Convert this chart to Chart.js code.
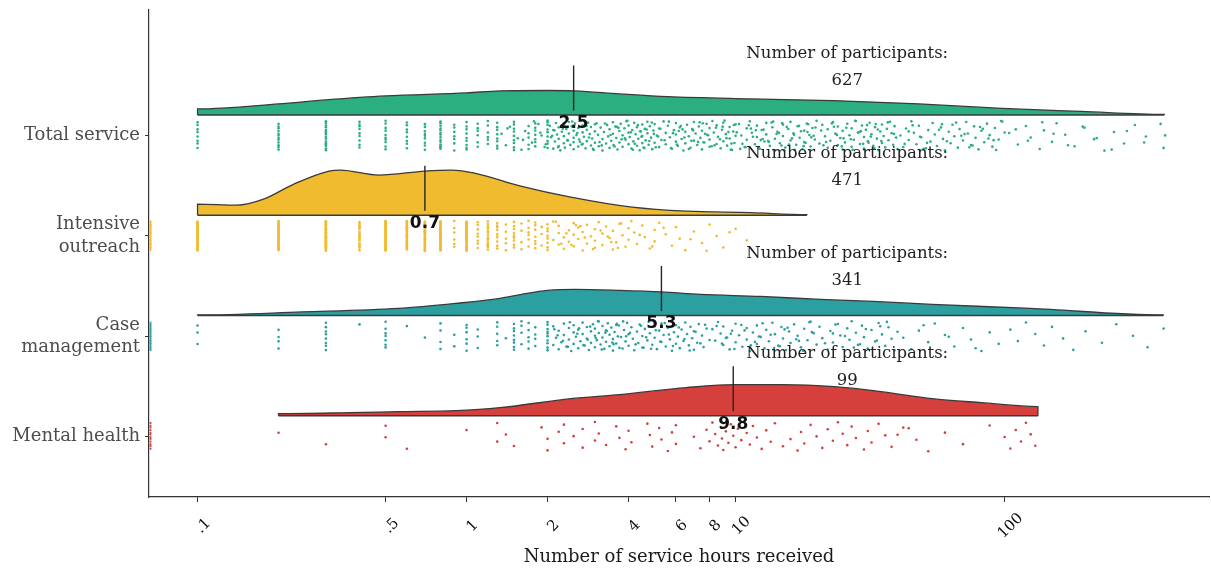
<!DOCTYPE html>
<html><head><meta charset="utf-8">
<script src="https://cdn.jsdelivr.net/npm/chart.js@4.4.0/dist/chart.umd.min.js"></script>
<style>html,body{margin:0;padding:0;background:#fff;}#wrap{width:1211px;height:569px;}</style>
</head><body><div id="wrap"><canvas id="c" width="1211" height="569"></canvas></div>
<script>
// ---------- data ----------
const categories = ['Total service', ['Intensive', 'outreach'], ['Case', 'management'], 'Mental health'];
const categoryLevels = [4, 3, 2, 1];
const seriesColors = ['#2BAE80', '#F1BB30', '#2C9FA0', '#D5403D'];
const medians = [2.5, 0.7, 5.3, 9.8];
const medianLabels = ['2.5', '0.7', '5.3', '9.8'];
const participants = [627, 471, 341, 99];
const zeroCounts = [0, 24, 20, 12];
const xTickValues = [0.1, 0.5, 1, 2, 4, 6, 8, 10, 100];
const xTickLabels = ['.1', '.5', '1', '2', '4', '6', '8', '10', '100'];

// density curves (hours, height in y-axis units)
const totalDensityX = [0.1, 0.2, 0.3, 0.5, 1, 1.33, 2, 2.53, 3.7, 5.6, 11.4, 23, 48, 98, 193, 392];
const totalDensityH = [0.06, 0.11, 0.15, 0.19, 0.22, 0.24, 0.244, 0.24, 0.21, 0.182, 0.16, 0.143, 0.11, 0.065, 0.035, 0.005];
const intensiveDensityX = [0.1, 0.14, 0.176, 0.228, 0.308, 0.339, 0.473, 0.7, 0.88, 1.07, 1.59, 2.44, 4.13, 6.56, 11.4, 18.4];
const intensiveDensityH = [0.11, 0.10, 0.16, 0.31, 0.44, 0.45, 0.40, 0.44, 0.45, 0.42, 0.29, 0.18, 0.08, 0.04, 0.025, 0.005];
const caseDensityX = [0.1, 0.244, 0.557, 0.91, 1.33, 1.6, 2.0, 2.53, 3.72, 5.3, 7.4, 12.4, 20.7, 32.5, 53.8, 125, 389];
const caseDensityH = [0.005, 0.035, 0.07, 0.12, 0.17, 0.21, 0.25, 0.26, 0.25, 0.235, 0.21, 0.19, 0.16, 0.14, 0.11, 0.07, 0.005];
const mentalDensityX = [0.2, 0.366, 0.56, 0.91, 1.33, 2.44, 3.7, 6.56, 10, 14.7, 23.4, 34.7, 53.8, 82, 133];
const mentalDensityH = [0.02, 0.03, 0.04, 0.05, 0.08, 0.17, 0.21, 0.28, 0.31, 0.31, 0.29, 0.24, 0.17, 0.13, 0.09];

// raw observations: repeated values (columns) + individual values
const totalColumnHours = [0.1, 0.2, 0.3, 0.4, 0.5, 0.6, 0.7, 0.8, 0.9, 1.0, 1.1, 1.2, 1.3, 1.5, 1.7, 1.8, 2.0];
const totalColumnCounts = [8, 12, 16, 9, 10, 8, 9, 14, 7, 9, 6, 6, 8, 9, 5, 7, 9];
const totalHours = [
  1.35,1.4,1.45,1.55,1.6,1.65,1.75,1.85,1.9,1.95,1.42,1.62,1.78,1.88,1.97,
  2.04,2.06,2.1,2.1,2.13,2.15,2.17,2.2,2.2,2.2,2.23,2.26,2.3,2.3,2.3,2.32,2.35,2.38,2.4,2.4,
  2.43,2.46,2.5,2.5,2.5,2.5,2.53,2.56,2.6,2.6,2.62,2.66,2.7,2.7,2.7,2.73,2.77,2.8,2.8,2.83,
  2.87,2.9,2.9,2.93,2.97,3.0,3.0,3.0,2.08,2.19,2.28,2.37,2.47,2.58,2.68,2.79,2.85,2.95,2.12,2.64,
  3.04,3.08,3.1,3.15,3.2,3.2,3.24,3.3,3.33,3.36,3.4,3.4,3.45,3.5,3.5,3.52,3.57,3.6,3.64,3.7,
  3.7,3.74,3.8,3.8,3.86,3.9,3.93,4.0,4.0,4.0,4.04,4.1,4.13,4.17,4.2,4.25,4.3,4.3,4.35,4.4,
  4.44,4.5,4.5,4.5,4.55,4.6,4.63,4.7,4.7,4.75,4.8,4.85,4.9,4.95,3.12,3.27,3.43,3.55,3.67,3.77,
  3.96,4.08,4.22,4.33,4.47,4.58,4.67,4.78,4.88,4.97,3.18,3.62,3.88,4.15,4.42,
  5.0,5.0,5.1,5.2,5.2,5.3,5.4,5.5,5.5,5.6,5.7,5.8,5.9,6.0,6.0,6.0,6.1,6.2,6.3,6.4,
  6.5,6.5,6.6,6.7,6.8,6.9,7.0,7.0,7.1,7.2,7.3,7.4,7.5,7.5,7.6,7.8,7.9,8.0,8.0,8.0,
  8.2,8.3,8.5,8.5,8.6,8.8,8.9,9.0,9.0,9.2,9.3,9.5,9.5,9.7,9.8,9.9,10,10,
  5.05,5.25,5.45,5.65,5.85,6.05,6.25,6.45,6.7,6.95,7.25,7.55,7.85,8.15,8.45,8.75,9.1,9.4,9.65,9.85,
  5.15,5.75,6.35,6.85,7.35,7.7,8.35,8.95,9.25,9.6,6.15,7.65,
  10.3,10.5,10.8,11,11,11.3,11.5,11.8,12,12,12.3,12.5,12.8,13,13,13.4,13.7,14,14,14.3,
  14.6,15,15,15.3,15.7,16,16,16.4,16.8,17,17.3,17.7,18,18,18.4,18.8,19,19.3,19.7,20,
  10.1,10.6,11.2,11.6,12.2,12.7,13.2,13.6,14.2,14.8,15.5,16.2,16.6,17.5,18.2,18.6,19.5,
  10.9,11.4,12.4,13.8,14.5,15.8,17.2,19.1,10.4,11.9,13.3,14.9,16.5,17.9,19.8,12.6,15.2,18.5,
  20.5,21,21.5,22,22,22.5,23,23.5,24,24,24.5,25,25,25.5,26,26.5,27,27,27.5,28,
  28.5,29,29.5,30,30,30.5,31,31.5,32,32.5,33,33.5,34,34.5,35,35,35.5,36,36.5,37,
  37.5,38,38.5,39,39.5,40,20.8,21.7,22.8,23.8,24.8,25.8,26.8,27.8,28.8,29.8,
  30.8,31.8,32.8,33.8,34.8,36.8,38.8,21.2,23.2,25.2,27.2,29.2,31.2,33.2,
  41,42,43,44,45,46,47,48,49,50,52,53,54,55,56,58,59,60,62,63,64,65,67,68,70,72,73,75,77,78,
  80,82,84,86,88,90,92,95,97,100,42.5,45.5,48.5,51,57,61,66,71,76,81,87,93,44,51.5,58.5,69,74,83,91,98,
  104,112,120,125,135,140,150,156,168,182,198,215,235,255,278,305,335,390,
  110,122,138,152,172,195,220,250,285,330,380,395
];

const intensiveColumnHours = [0.1, 0.2, 0.3, 0.4, 0.5, 0.6, 0.7, 0.8, 0.9, 1.0, 1.1, 1.2, 1.3, 1.4, 1.5, 1.6, 1.7, 1.8, 1.9, 2.0];
const intensiveColumnCounts = [35, 34, 48, 18, 44, 31, 39, 35, 6, 33, 8, 14, 9, 5, 9, 4, 6, 7, 3, 8];
const intensiveHours = [
  2.1,2.1,2.2,2.2,2.2,2.3,2.3,2.4,2.4,2.5,2.5,2.5,2.6,2.6,2.7,2.7,2.8,2.8,2.9,3.0,
  3.0,3.0,3.1,3.2,3.2,3.3,3.4,3.5,3.5,3.6,3.7,3.8,3.9,4.0,4.0,4.1,4.2,4.3,4.5,4.6,
  4.8,5.0,5.0,5.2,5.5,5.8,6.0,6.2,6.5,7.0,7.5,8.0,8.5,9.0,10,11,
  2.15,2.35,2.45,2.65,2.75,2.95,3.15,3.45,3.75,4.4,4.9,5.4,6.8,7.8,9.5,2.25,2.55,3.35,3.65
];

const caseColumnHours = [0.1, 0.2, 0.3, 0.4, 0.5, 0.6, 0.7, 0.8, 0.9, 1.0, 1.1, 1.3, 1.4, 1.5, 1.6, 1.7, 1.8, 2.0];
const caseColumnCounts = [3, 4, 8, 1, 7, 1, 1, 4, 2, 6, 3, 5, 1, 8, 4, 5, 4, 10];
const caseHours = [
  2.1,2.1,2.15,2.2,2.2,2.25,2.3,2.3,2.35,2.4,2.4,2.45,2.5,2.5,2.5,2.55,2.6,2.6,2.65,2.7,
  2.7,2.75,2.8,2.8,2.85,2.9,2.9,2.95,3.0,3.0,3.0,3.05,3.1,3.1,3.15,3.2,3.2,3.25,3.3,3.3,
  3.35,3.4,3.4,3.45,3.5,3.5,3.55,3.6,3.6,3.65,3.7,2.12,2.28,2.42,2.58,2.72,2.88,3.02,3.18,3.32,
  3.48,3.62,2.18,2.38,2.62,2.82,3.08,3.28,3.52,3.68,
  3.75,3.8,3.85,3.9,3.95,4.0,4.0,4.1,4.15,4.2,4.3,4.35,4.4,4.5,4.5,4.6,4.7,4.75,4.8,4.9,
  5.0,5.0,5.1,5.2,5.3,5.3,5.4,5.5,5.6,5.7,5.8,5.9,6.0,6.0,6.1,6.2,6.3,6.4,6.5,6.6,
  6.7,6.8,6.9,7.0,7.0,7.2,7.3,7.5,7.6,7.8,8.0,3.82,4.05,4.25,4.45,4.65,4.85,5.05,5.25,5.45,
  5.65,5.85,6.15,6.45,6.75,7.1,7.4,7.7,3.92,4.55,
  8.2,8.4,8.6,8.8,9.0,9.0,9.2,9.5,9.7,10,10,10.3,10.6,11,11,11.3,11.6,12,12,12.4,
  12.8,13,13.3,13.7,14,14.4,14.8,15,15.4,15.8,16,16.5,17,17.5,18,18.5,19,19.5,20,
  8.5,9.3,9.9,10.8,11.8,12.6,13.5,14.6,15.6,16.8,17.8,19.2,8.9,10.5,12.2,13.9,15.2,17.2,18.8,9.6,11.4,
  20.5,21,22,22.5,23,24,24.5,25,26,26.5,27,28,29,29.5,30,31,32,33,34,35,36,37,38,39,40,
  21.5,23.5,25.5,27.5,30.5,33.5,36.5,23,28.5,34.5,
  42,45,48,52,55,60,65,70,75,82,88,95,50,62,78,
  105,112,120,130,140,150,165,180,200,230,260,300,340,390
];

const mentalColumnHours = [];
const mentalColumnCounts = [];
const mentalHours = [
  0.2,0.3,0.5,0.5,0.6,1.0,1.3,1.3,1.4,1.5,1.9,2.0,2.0,2.2,2.3,2.3,2.5,2.7,2.7,3.0,
  3.0,3.1,3.3,3.6,3.7,3.9,4.0,4.1,4.7,4.8,4.9,5.2,5.3,5.6,5.8,6.0,6.0,7.0,7.4,7.8,
  8.0,8.2,8.4,8.6,8.8,8.9,9.0,9.2,9.4,9.6,9.8,10,10.2,10.5,10.8,11,11.3,11.6,12,12.5,
  13,13.5,14,40,15,42,16,17,17.5,18,19,20,21,22,23,24,25,26,27,28,
  30,31,32,34,36,38,44,47,52,60,70,88,100,105,110,115,120,125,130
];

// ---------- layout constants ----------
const BASE_OFF = 0.206, MED_LO = 0.25, MED_HI = 0.70, JIT = 0.15;
const OUTLINE = '#3a3a3a';

function expand(colX, colN, singles) {
  const out = [];
  colX.forEach((x, i) => { for (let k = 0; k < colN[i]; k++) out.push(x); });
  return out.concat(singles);
}
function jitter(i) { return ((((i + 1) * 0.6180339887) % 1) - 0.5) * 2 * JIT; }

const obs = [
  expand(totalColumnHours, totalColumnCounts, totalHours),
  expand(intensiveColumnHours, intensiveColumnCounts, intensiveHours),
  expand(caseColumnHours, caseColumnCounts, caseHours),
  expand(mentalColumnHours, mentalColumnCounts, mentalHours)
];
const dens = [
  [totalDensityX, totalDensityH], [intensiveDensityX, intensiveDensityH],
  [caseDensityX, caseDensityH], [mentalDensityX, mentalDensityH]
];

const datasets = [];
obs.forEach((vals, s) => {
  const lvl = categoryLevels[s];
  datasets.push({
    data: vals.map((v, i) => ({ x: v, y: lvl + jitter(i) })),
    showLine: false, pointRadius: 1.3, pointBorderWidth: 0, pointHoverRadius: 0,
    pointBackgroundColor: seriesColors[s], borderColor: seriesColors[s], order: 3
  });
});
dens.forEach(([X, H], s) => {
  const base = categoryLevels[s] + BASE_OFF;
  const n = X.length;
  const pts = [{ x: X[0], y: base }].concat(X.map((x, i) => ({ x, y: base + H[i] }))).concat([{ x: X[n - 1], y: base }]);
  datasets.push({
    data: pts, showLine: true, pointRadius: 0, pointHoverRadius: 0,
    borderColor: OUTLINE, borderWidth: 1.3, backgroundColor: seriesColors[s],
    fill: { value: base }, cubicInterpolationMode: 'monotone', order: 2
  });
  datasets.push({
    data: [{ x: X[0], y: base }, { x: X[n - 1], y: base }], showLine: true, pointRadius: 0,
    borderColor: OUTLINE, borderWidth: 1.6, fill: false, order: 1
  });
  datasets.push({
    data: [{ x: medians[s], y: categoryLevels[s] + MED_LO }, { x: medians[s], y: categoryLevels[s] + MED_HI }],
    showLine: true, pointRadius: 0, borderColor: '#262626', borderWidth: 1.4, fill: false, order: 0
  });
});

const textPlugin = {
  id: 'rainText',
  afterDatasetsDraw(chart) {
    const { ctx, scales: { x, y }, chartArea } = chart;
    ctx.save();
    zeroCounts.forEach((n, s) => {
      ctx.fillStyle = seriesColors[s];
      for (let i = 0; i < n; i++) {
        const py = y.getPixelForValue(categoryLevels[s] + jitter(i));
        ctx.fillRect(chartArea.left + 0.6, py - 1, 1.8, 2);
      }
    });
    ctx.textAlign = 'center'; ctx.textBaseline = 'middle';
    ctx.fillStyle = '#111';
    ctx.font = 'bold 17px "DejaVu Sans"';
    medians.forEach((m, s) => ctx.fillText(medianLabels[s], x.getPixelForValue(m), y.getPixelForValue(categoryLevels[s] + 0.12)));
    ctx.font = '16.5px "DejaVu Serif"'; ctx.fillStyle = '#222';
    participants.forEach((n, s) => {
      const px = x.getPixelForValue(26);
      ctx.fillText('Number of participants:', px, y.getPixelForValue(categoryLevels[s] + 0.82));
      ctx.fillText(String(n), px, y.getPixelForValue(categoryLevels[s] + 0.55));
    });
    ctx.font = '15px "DejaVu Serif"'; ctx.fillStyle = '#111';
    xTickValues.forEach((v, i) => {
      const px = x.getPixelForValue(v);
      ctx.save(); ctx.translate(px + 6, chartArea.bottom + 29); ctx.rotate(-Math.PI / 4);
      ctx.fillText(xTickLabels[i], 0, 0); ctx.restore();
    });
    ctx.restore();
  }
};

new Chart(document.getElementById('c'), {
  type: 'line',
  data: { datasets },
  plugins: [textPlugin],
  options: {
    responsive: false, animation: false, devicePixelRatio: 1,
    layout: { padding: { top: 10, right: 2, left: 0, bottom: 0 } },
    plugins: { legend: { display: false }, tooltip: { enabled: false } },
    scales: {
      x: {
        type: 'logarithmic', min: 0.066, max: 575, bounds: 'data',
        afterBuildTicks: s => { s.ticks = xTickValues.map(v => ({ value: v })); },
        afterFit: s => { s.height = 72; s.paddingLeft = 0; s.paddingRight = 0; },
        ticks: { display: false },
        grid: { display: true, drawOnChartArea: false, drawTicks: true, tickLength: 5, color: '#333', lineWidth: 1 },
        border: { display: true, color: '#333', width: 1.2 },
        title: { display: true, text: 'Number of service hours received', color: '#1a1a1a',
                 font: { family: '"DejaVu Serif"', size: 18 }, padding: { top: 0, bottom: 1 } }
      },
      y: {
        type: 'linear', min: 0.395, max: 5.253,
        afterBuildTicks: s => { s.ticks = categoryLevels.slice().reverse().map(v => ({ value: v })); },
        afterFit: s => { s.width = 149; s.paddingTop = 0; s.paddingBottom = 0; },
        ticks: {
          callback: v => categories[categoryLevels.indexOf(v)],
          color: '#4d4d4d', font: { family: '"DejaVu Serif"', size: 18, lineHeight: 1.25 }, padding: 5
        },
        grid: { display: true, drawOnChartArea: false, drawTicks: true, tickLength: 4, color: '#333', lineWidth: 1 },
        border: { display: true, color: '#333', width: 1.2 }
      }
    }
  }
});
</script></body></html>
